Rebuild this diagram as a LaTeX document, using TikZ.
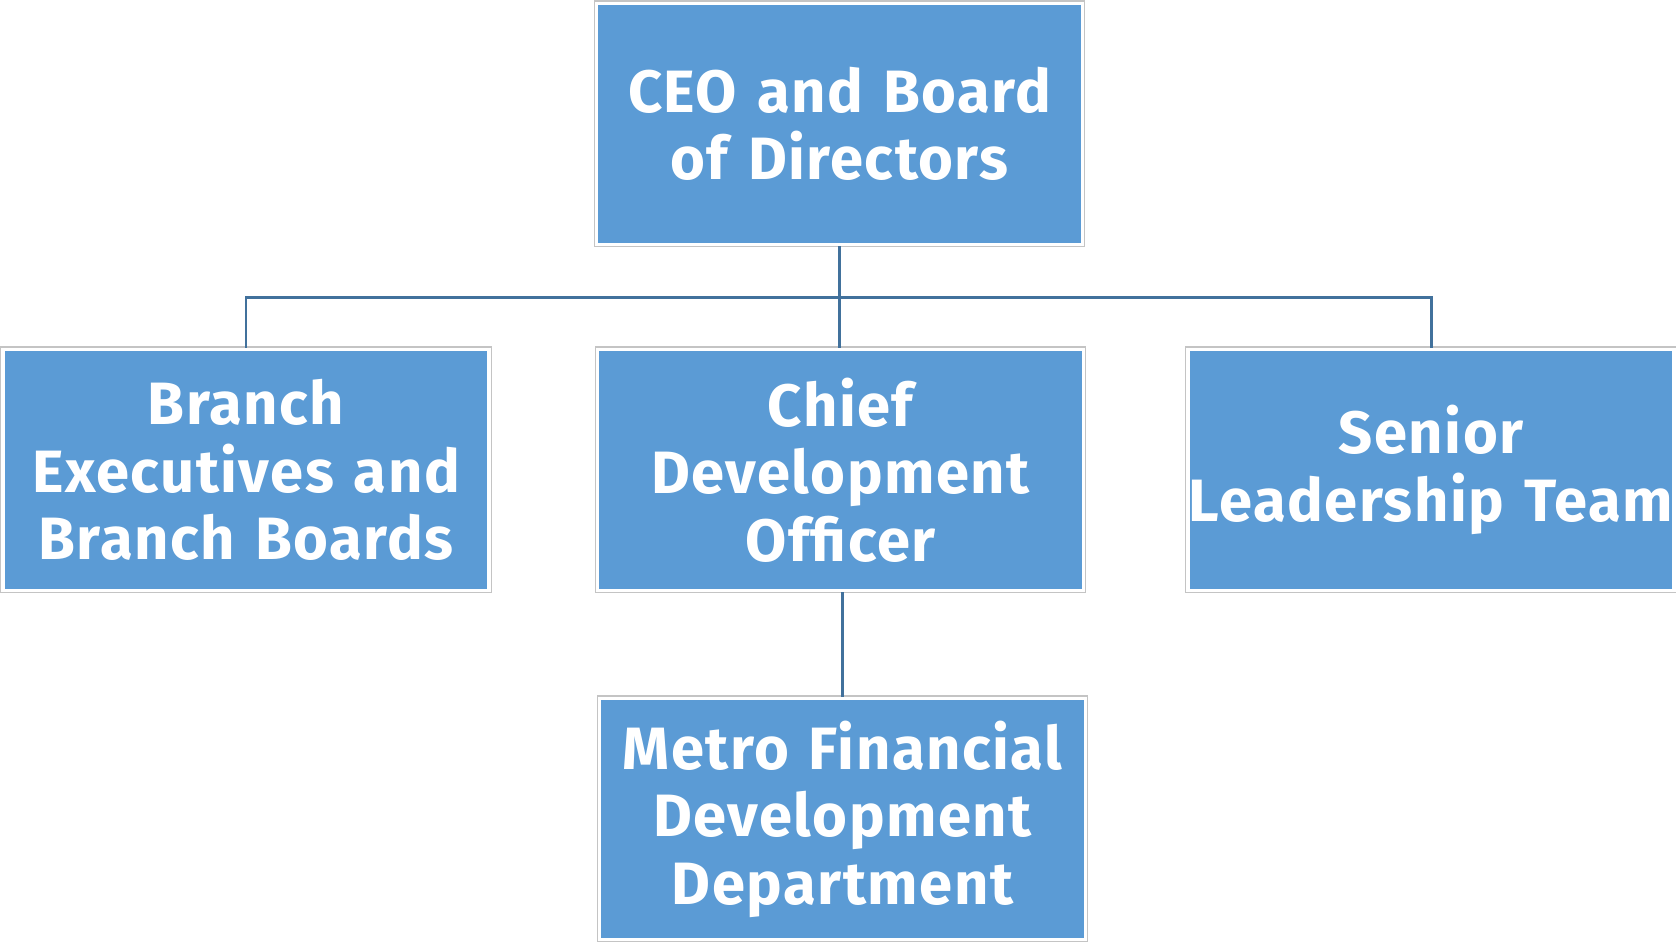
\documentclass[tikz,border=0pt]{standalone}
\usepackage{fontspec}
\setmainfont[LetterSpace=2.5]{Fira Sans}
\usepackage{tikz}
\usetikzlibrary{positioning}
\definecolor{boxblue}{HTML}{5B9BD5}
\definecolor{boxrim}{HTML}{C4C4C4}
\definecolor{linkblue}{HTML}{41719C}

\begin{document}
\begin{tikzpicture}[
  orgbox/.style={
    preaction={draw=boxrim,line width=1.7pt},
    draw=white,line width=0.9pt,fill=boxblue,
    text=white,font=\fontsize{17}{19.2}\selectfont\bfseries,
    align=center,inner sep=0pt,
    minimum width=4.86cm,minimum height=2.41cm,text width=4.86cm
  },
  link/.style={draw=linkblue,line width=0.85pt}
]
\useasboundingbox (0,0) rectangle (16.76,9.42);

\node[orgbox] (ceo) at (8.395,8.18) {CEO and Board\\of Directors};
\node[orgbox] (chief) at (8.405,4.72) {Chief\\Development\\Officer};
\node[orgbox] (branch) at (2.46,4.72) {Branch\\Executives and\\Branch Boards};
\node[orgbox] (senior) at (14.31,4.72) {Senior\\Leadership Team};
\node[orgbox] (metro) at (8.425,1.23) {Metro Financial\\Development\\Department};

\draw[link] (ceo.south) -- (ceo.south |- chief.north);
\draw[link] (ceo.south) -- ++(0,-0.51) -| (branch.north);
\draw[link] (ceo.south) -- ++(0,-0.51) -| (senior.north);
\draw[link] (metro.north |- chief.south) -- (metro.north);

\end{tikzpicture}
\end{document}
